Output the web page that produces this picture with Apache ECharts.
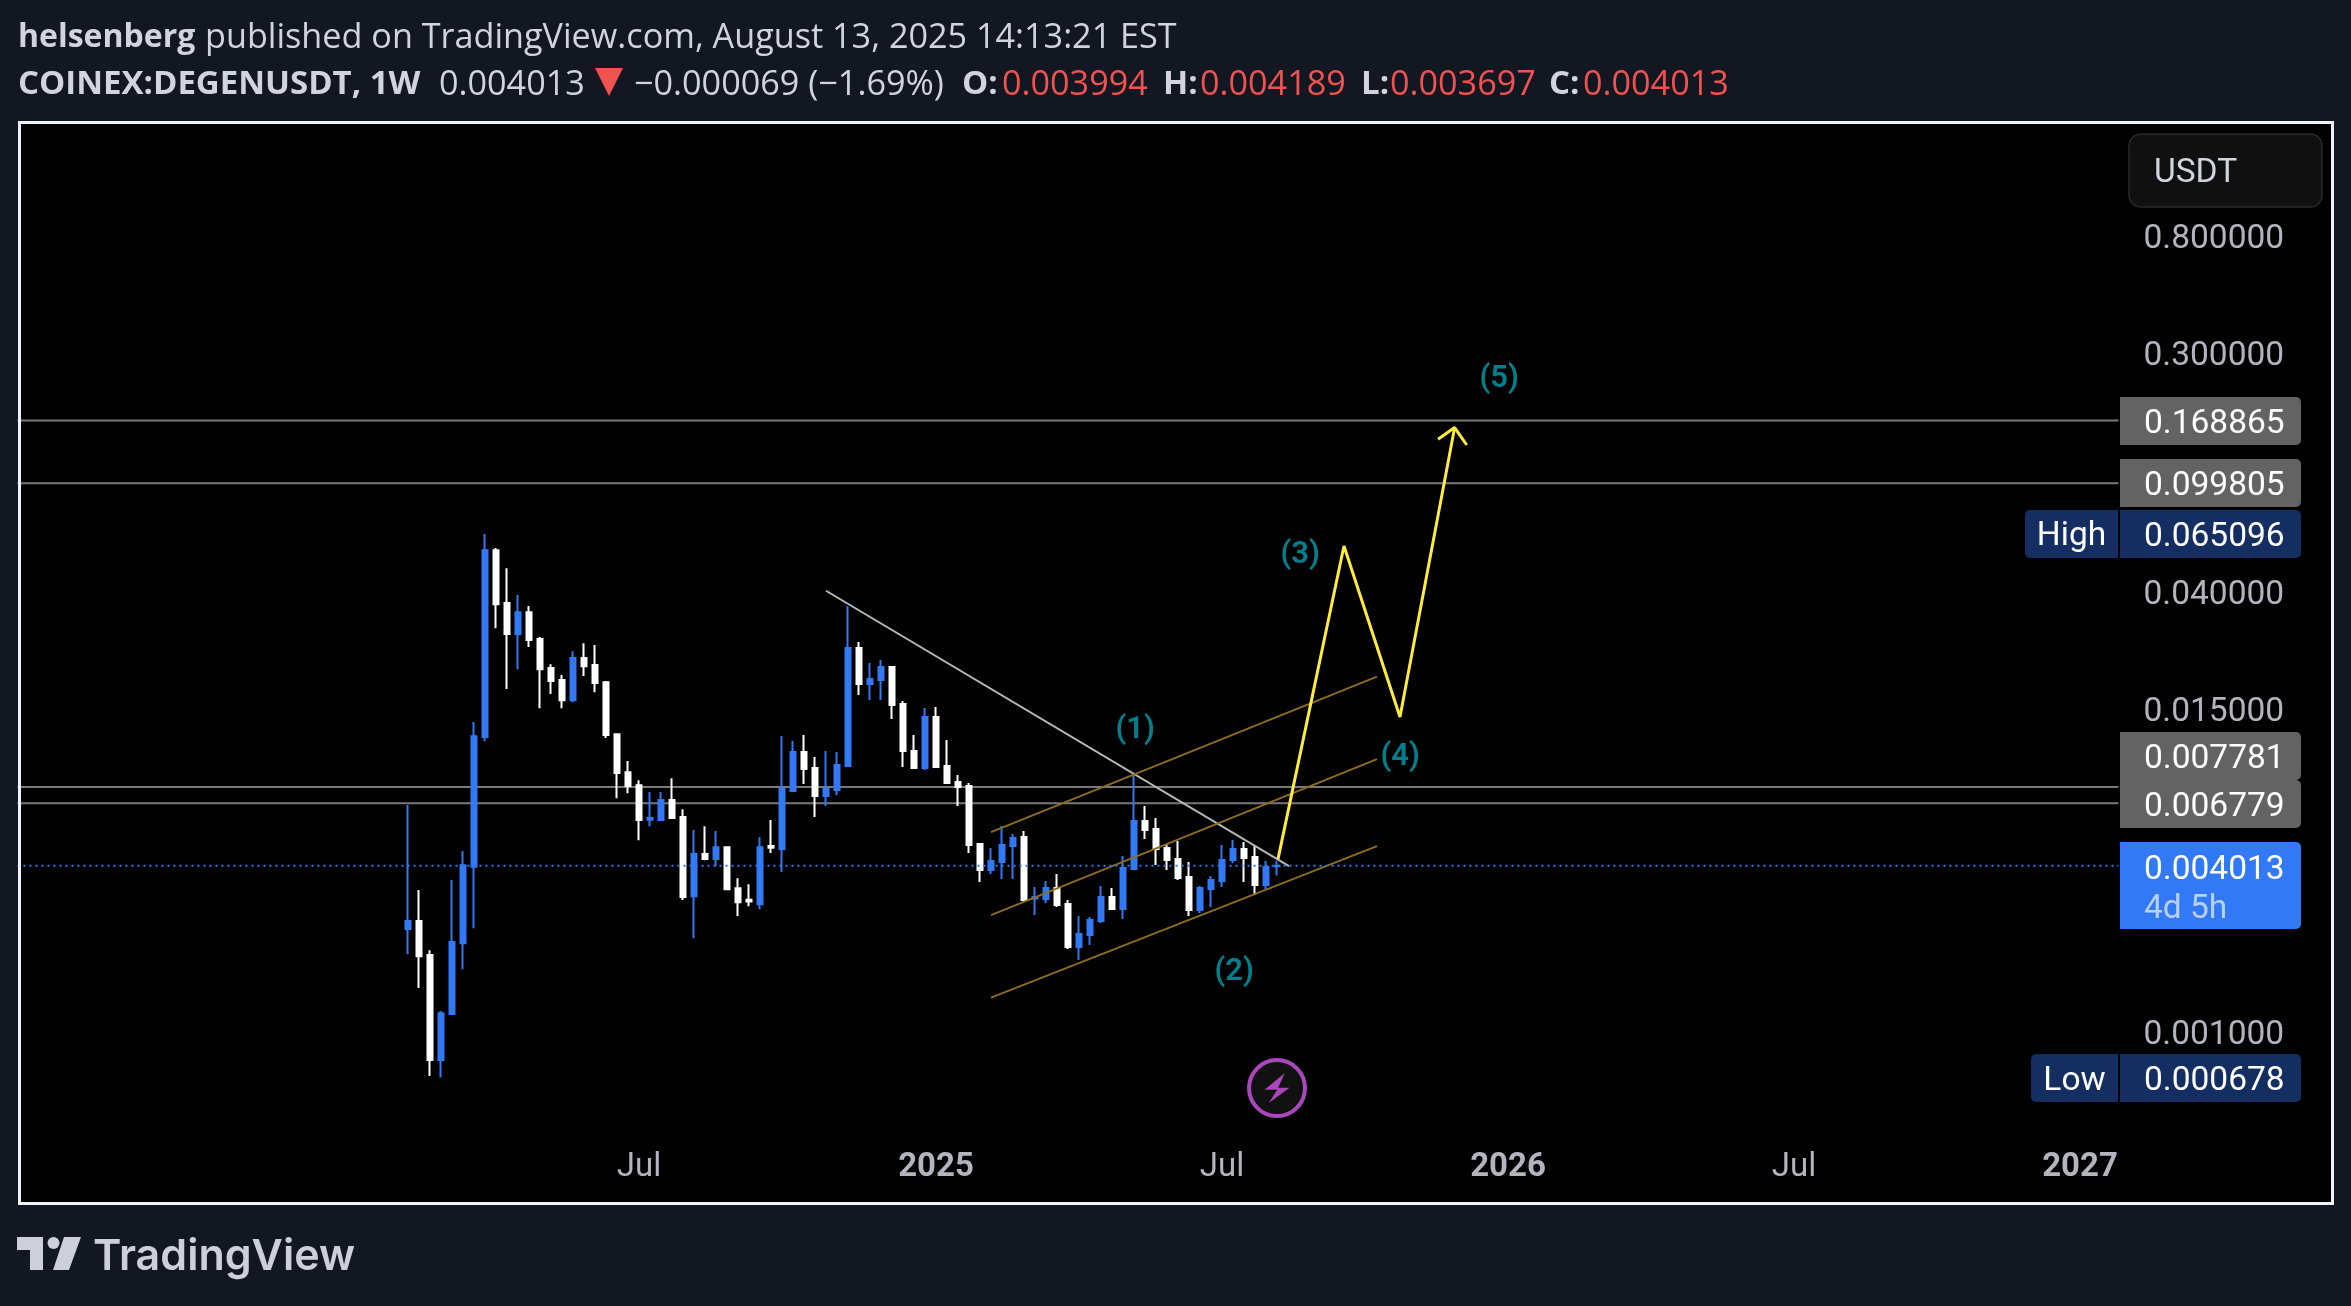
<!DOCTYPE html>
<html lang="en">
<head>
    <meta charset="utf-8">
    <title>COINEX:DEGENUSDT, 1W</title>
    <script src="https://cdn.jsdelivr.net/npm/echarts@6/dist/echarts.min.js"></script>
    <style>
        html, body { margin: 0; padding: 0; background: #131722; }
        #main { width: 2351px; height: 1306px; }
    </style>
</head>
<body>
<div id="main"></div>
<script type="text/javascript">
// weekly candles
var opens = [
    0.002358,0.002522,0.001895,0.000785,0.001155,0.002093,0.003982,0.011841,0.056853,0.036481,
    0.028118,0.033773,0.026967,0.021121,0.019118,0.016123,0.022962,0.021671,0.018752,0.012111,
    0.008809,0.007897,0.005913,0.005894,0.006967,0.006048,0.003109,0.004427,0.004246,0.004691,
    0.003326,0.003020,0.002906,0.004735,0.004617,0.007516,0.010430,0.009118,0.007207,0.007580,
    0.009273,0.024986,0.018466,0.019097,0.021300,0.015610,0.010518,0.009118,0.013995,0.009273,
    0.008106,0.007839,0.004815,0.003871,0.004140,0.004735,0.005107,0.003051,0.003034,0.003327,
    0.002909,0.002027,0.002242,0.002522,0.003085,0.002789,0.003903,0.005842,0.005462,0.004656,
    0.004245,0.003650,0.002766,0.003300,0.003529,0.004210,0.004617,0.004317,0.003412,0.003994
];
var closes = [
    0.002522,0.001877,0.000785,0.001162,0.002114,0.004033,0.011918,0.056853,0.036131,0.028118,
    0.033773,0.026708,0.020918,0.018934,0.016123,0.022962,0.021463,0.018632,0.012033,0.008753,
    0.007847,0.005894,0.005990,0.006967,0.005990,0.003089,0.004427,0.004246,0.004691,0.003294,
    0.002953,0.002972,0.004691,0.004669,0.007644,0.010430,0.009042,0.007207,0.007644,0.009351,
    0.024986,0.018466,0.019258,0.021300,0.015479,0.010518,0.009118,0.013995,0.009195,0.008039,
    0.007773,0.004775,0.003871,0.004175,0.004775,0.005064,0.003008,0.003085,0.003327,0.002885,
    0.002027,0.002261,0.002543,0.003085,0.002789,0.003936,0.005842,0.005416,0.004617,0.004210,
    0.003619,0.002766,0.003327,0.003559,0.004210,0.004617,0.004281,0.003412,0.003969,0.004013
];
var lows = [
    0.001913,0.001437,0.000686,0.000678,0.001155,0.001682,0.002373,0.011430,0.029507,0.017698,
    0.020918,0.025206,0.015070,0.016974,0.015070,0.015865,0.019742,0.017249,0.011728,0.007080,
    0.007382,0.004971,0.005599,0.005894,0.005990,0.003010,0.002183,0.004206,0.003995,0.003294,
    0.002630,0.002859,0.002787,0.004465,0.003806,0.007516,0.007971,0.006041,0.006626,0.007268,
    0.009273,0.016836,0.016143,0.016143,0.013762,0.009195,0.009118,0.008966,0.009118,0.007971,
    0.006626,0.004465,0.003499,0.003743,0.003589,0.003589,0.002983,0.002652,0.002934,0.002837,
    0.001993,0.001817,0.002061,0.002480,0.002789,0.002565,0.003871,0.005022,0.004037,0.003871,
    0.003559,0.002630,0.002697,0.002837,0.003356,0.004105,0.003499,0.003137,0.003300,0.003697
];
var highs = [
    0.006681,0.003273,0.001976,0.001185,0.003558,0.004543,0.013423,0.065096,0.057960,0.048880,
    0.039030,0.035555,0.027404,0.021811,0.019934,0.024330,0.026030,0.025615,0.018934,0.012228,
    0.009670,0.008234,0.007453,0.007453,0.008368,0.006449,0.005421,0.005599,0.005369,0.004691,
    0.003616,0.003434,0.005100,0.005891,0.011930,0.011440,0.012031,0.010001,0.010518,0.010430,
    0.035558,0.026278,0.022028,0.022590,0.021300,0.016008,0.012031,0.015094,0.015221,0.011536,
    0.008597,0.008039,0.004815,0.004656,0.005602,0.005237,0.005371,0.003356,0.003529,0.003743,
    0.003008,0.002630,0.002608,0.003384,0.003327,0.004354,0.008792,0.006626,0.005991,0.004815,
    0.004938,0.004140,0.003384,0.003680,0.004775,0.004980,0.004897,0.004775,0.004175,0.004189
];
var firstCandleSlot = 35;   // empty weeks left of the first candle
var slotCount = 191;

var timeTicks = {
    '2024-07-01': 'Jul', '2025-01-06': '2025', '2025-07-07': 'Jul',
    '2026-01-05': '2026', '2026-07-06': 'Jul', '2027-01-04': '2027'
};
var priceTicks = [0.8, 0.3, 0.04, 0.015, 0.001];
var levels = [0.168865, 0.099805, 0.007781, 0.006779];
var lastPrice = 0.004013;

// drawings: [week slot, price]
var trendLine = [[73, 0.040435], [115.09, 0.004003]];
var channelTop = [[88, 0.005326], [123.09, 0.019667]];
var channelMid = [[88, 0.002652], [123.09, 0.009834]];
var channelLow = [[88, 0.001326], [123.09, 0.004735]];
var wavePath = [[114.09, 0.004245], [120.09, 0.058862], [125.18, 0.013995], [130.15, 0.159278]];
var arrowHead = [[128.64, 0.14427], [130.15, 0.159278], [131.25, 0.13753]];
var waveNames = ['(1)', '(2)', '(3)', '(4)', '(5)'];
var waveSlots = [101.1, 110.1, 116.1, 125.2, 134.2];
var wavePrices = [0.012813, 0.001685, 0.055968, 0.010213, 0.244466];
var iconPoint = [114, 0.00062];

var BLUE = '#3179f5';
var RED = '#ef5350';
var uiFont = 'Roboto, sans-serif';

var categories = [];
for (var i = 0; i < slotCount; i++) {
    var d = new Date(Date.UTC(2023, 5, 5) + i * 7 * 86400000);
    categories.push(d.toISOString().slice(0, 10));
}

var candleData = opens.map(function (o, i) {
    return [categories[i + firstCandleSlot], o, closes[i], lows[i], highs[i]];
});

function drawLine(points, color, width, z, dash) {
    return {
        type: 'line', xAxisIndex: 1, yAxisIndex: 0, data: points, z: z,
        showSymbol: false, silent: true, animation: false,
        lineStyle: { color: color, width: width, type: dash || 'solid', cap: 'butt' }
    };
}
function txt(x, y, text, size, color, weight, align, family) {
    return {
        type: 'text', z: 60, silent: true,
        style: {
            x: x, y: y, text: text, fill: color,
            font: (weight || 400) + ' ' + size + 'px ' + (family || uiFont),
            textAlign: align || 'left', align: align || 'left',
            textVerticalAlign: 'middle', verticalAlign: 'middle'
        }
    };
}
function head(x, y, text, color, weight, size) {
    return txt(x, y, text, size || (weight ? 33 : 34.2), color || '#d1d4dc', weight || 400, 'left', '"Open Sans"');
}
function box(x, y, w, h, color, r) {
    return { type: 'rect', z: 50, silent: true, shape: { x: x, y: y, width: w, height: h, r: r }, style: { fill: color } };
}

var series = [{
    type: 'candlestick', xAxisIndex: 0, yAxisIndex: 0, z: 3, barWidth: 6,
    data: candleData, encode: { x: 0, y: [1, 2, 3, 4] },
    itemStyle: { color: BLUE, color0: '#ffffff', borderColor: BLUE, borderColor0: '#ffffff', borderWidth: 2 }
}];
levels.forEach(function (v) {
    series.push(drawLine([[-0.5, v], [190.5, v]], '#787878', 2, 1));
});
series.push(drawLine(trendLine, '#b8b8b8', 2, 4));
series.push(drawLine(channelTop, '#8c6d1f', 2, 4));
series.push(drawLine(channelMid, '#8c6d1f', 2, 4));
series.push(drawLine(channelLow, '#8c6d1f', 2, 4));
series.push(drawLine(wavePath, '#ffeb3b', 3, 5));
series.push(drawLine(arrowHead, '#ffeb3b', 3, 5));
series.push(drawLine([[-0.5, lastPrice], [190.5, lastPrice]], BLUE, 2, 6, [2, 4]));
series.push({
    type: 'scatter', xAxisIndex: 1, yAxisIndex: 0, z: 6, symbolSize: 1, silent: true,
    itemStyle: { color: 'transparent' },
    data: waveNames.map(function (n, i) { return { name: n, value: [waveSlots[i], wavePrices[i]] }; }),
    label: {
        show: true, position: 'inside', formatter: '{b}', offset: [0, 3],
        color: '#00a0b2', fontFamily: uiFont, fontWeight: 600, fontSize: 31
    }
});
series.push({
    type: 'scatter', xAxisIndex: 1, yAxisIndex: 0, z: 6, silent: true, symbol: 'circle', symbolSize: 56,
    itemStyle: { color: '#111111', borderColor: '#ab47bc', borderWidth: 4, opacity: 1 },
    data: [iconPoint]
});
series.push({
    type: 'scatter', xAxisIndex: 1, yAxisIndex: 0, z: 7, silent: true,
    symbol: 'path://M61,0 L0,50 L38,50 L13,90 L75,44 L41,44 Z', symbolSize: [25, 30],
    itemStyle: { color: '#ab47bc', opacity: 1 },
    data: [iconPoint]
});

var line1 = 38, line2 = 85;
var tagFont = 33.5, tagShift = 4;
var graphics = [
    { type: 'rect', z: -1, silent: true, shape: { x: 20, y: 123, width: 2312, height: 1080 }, style: { fill: '#000000' } },
    { type: 'rect', z: 100, silent: true, shape: { x: 19.5, y: 122.5, width: 2313, height: 1081 }, style: { fill: 'none', stroke: '#f0f3fa', lineWidth: 3 } },

    head(18, line1, 'helsenberg', null, 700, 32),
    head(205, line1, 'published on TradingView.com, August 13, 2025 14:13:21 EST'),
    head(18, line2, 'COINEX:DEGENUSDT, 1W', null, 700),
    head(439, line2, '0.004013'),
    { type: 'polygon', z: 60, silent: true, shape: { points: [[595, 68], [623, 68], [609, 96]] }, style: { fill: RED } },
    head(634, line2, '\u22120.000069 (\u22121.69%)'),
    head(962, line2, 'O:', null, 700), head(1002, line2, '0.003994', RED),
    head(1163, line2, 'H:', null, 700), head(1200, line2, '0.004189', RED),
    head(1361, line2, 'L:', null, 700), head(1390, line2, '0.003697', RED),
    head(1549, line2, 'C:', null, 700), head(1583, line2, '0.004013', RED),

    { type: 'rect', z: 50, silent: true, shape: { x: 2129, y: 134, width: 193, height: 73, r: 12 }, style: { fill: '#101010', stroke: '#2a2a2a', lineWidth: 1.5 } },
    txt(2154, 170 + tagShift, 'USDT', tagFont, '#d1d4dc'),

    box(2120, 397, 181, 48, '#636363', [0, 5, 5, 0]), txt(2144, 421 + tagShift, '0.168865', tagFont, '#ffffff'),
    box(2120, 459, 181, 48, '#636363', [0, 5, 5, 0]), txt(2144, 483 + tagShift, '0.099805', tagFont, '#ffffff'),
    box(2025, 510, 93, 48, '#142e61', [5, 0, 0, 5]), txt(2071.5, 533 + tagShift, 'High', tagFont, '#ffffff', 400, 'center'),
    box(2120, 510, 181, 48, '#142e61', [0, 5, 5, 0]), txt(2144, 534 + tagShift, '0.065096', tagFont, '#ffffff'),
    box(2120, 732, 181, 48, '#636363', [0, 5, 5, 0]), txt(2144, 756 + tagShift, '0.007781', tagFont, '#ffffff'),
    box(2120, 780, 181, 48, '#636363', [0, 5, 5, 0]), txt(2144, 804 + tagShift, '0.006779', tagFont, '#ffffff'),
    box(2120, 842, 181, 87, BLUE, [0, 5, 5, 0]), txt(2144, 867 + tagShift, '0.004013', tagFont, '#ffffff'), txt(2144, 906 + tagShift, '4d 5h', tagFont, '#b9d0fb'),
    box(2031, 1054, 87, 48, '#142e61', [5, 0, 0, 5]), txt(2074.5, 1078 + tagShift, 'Low', tagFont, '#ffffff', 400, 'center'),
    box(2120, 1054, 181, 48, '#142e61', [0, 5, 5, 0]), txt(2144, 1078 + tagShift, '0.000678', tagFont, '#ffffff'),

    // logo
    { type: 'polygon', silent: true, shape: { points: [[17, 1237], [43, 1237], [43, 1270], [30, 1270], [30, 1250], [17, 1250]] }, style: { fill: '#cdd0da' } },
    { type: 'circle', silent: true, shape: { cx: 53.5, cy: 1243, r: 6 }, style: { fill: '#cdd0da' } },
    { type: 'polygon', silent: true, shape: { points: [[64, 1237], [81, 1237], [69, 1270], [53, 1270]] }, style: { fill: '#cdd0da' } },
    txt(93, 1257, 'TradingView', 43, '#cdd0da', 600, 'left', 'Inter')
];

var option = {
    backgroundColor: '#131722',
    animation: false,
    grid: { left: 17.5, top: 125, width: 2101, height: 1015 },
    xAxis: [{
        type: 'category', data: categories, boundaryGap: true, position: 'bottom',
        axisLine: { show: false }, axisTick: { show: false }, splitLine: { show: false },
        axisLabel: {
            margin: 11, hideOverlap: false,
            interval: function (i, v) { return !!timeTicks[v]; },
            formatter: function (v) {
                var t = timeTicks[v];
                return t === 'Jul' ? '{m|Jul}' : '{y|' + t + '}';
            },
            rich: {
                m: { fontFamily: uiFont, fontSize: 33, color: '#b2b5be' },
                y: { fontFamily: uiFont, fontSize: 33, fontWeight: 700, color: '#b2b5be' }
            }
        }
    }, {
        type: 'value', min: -0.5, max: 190.5, show: false, position: 'top', splitLine: { show: false }
    }],
    yAxis: {
        type: 'log', logBase: 10, min: 0.000401, max: 2.0219, position: 'right',
        axisLine: { show: false }, axisTick: { show: false }, splitLine: { show: false }, minorTick: { show: false },
        axisLabel: {
            margin: 25, fontFamily: uiFont, fontSize: 33.5, color: '#b2b5be',
            verticalAlign: 'top', lineHeight: 8,
            customValues: priceTicks,
            formatter: function (v) { return Number(v).toFixed(6); }
        }
    },
    graphic: { elements: graphics },
    series: series
};

var myChart = echarts.init(document.getElementById('main'), null, { renderer: 'canvas', width: 2351, height: 1306 });
myChart.setOption(option);
</script>
</body>
</html>
